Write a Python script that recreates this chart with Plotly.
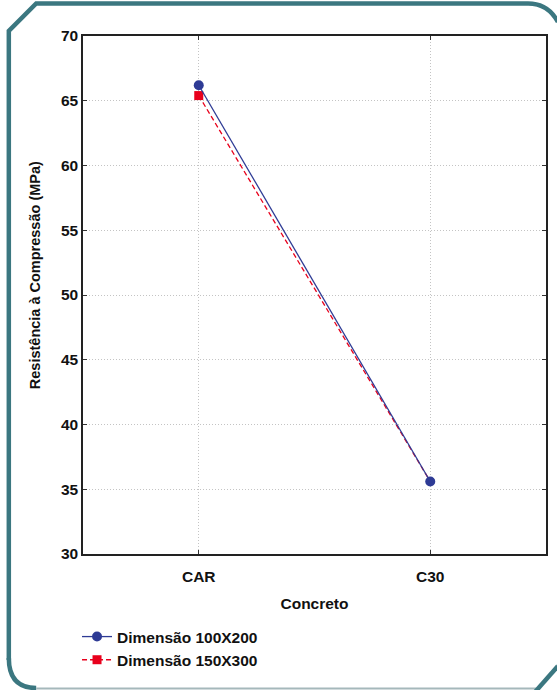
import plotly.graph_objects as go

categories = ["CAR", "C30"]
serie_100x200 = [66.2, 35.6]
serie_150x300 = [65.4, 35.6]
series_names = ["Dimensão 100X200", "Dimensão 150X300"]
y_ticks = [30, 35, 40, 45, 50, 55, 60, 65, 70]
x_title = "Concreto"
y_title = "Resistência à Compressão (MPa)"

W, H = 557, 690
L, R, T, B = 83, 9, 36, 136
PW, PH = W - L - R, H - T - B

def px(x):
    return (x - L) / PW

def py(y):
    return (H - B - y) / PH

def pt(p):
    return f"{px(p[0]):.5f},{py(p[1]):.5f}"

teal = "#3B7780"
font_fam = "Liberation Sans, Arial, sans-serif"
FS = 15.5

fig = go.Figure()
fig.add_trace(go.Scatter(
    x=categories, y=serie_150x300, name=series_names[1],
    mode="lines+markers",
    line=dict(color="#E8001C", width=1.3, dash="5px,3px"),
    # second square sits hidden behind the blue circle, as in the source
    marker=dict(symbol="square", size=9, color=["#E8001C", "rgba(232,0,28,0)"]),
))
fig.add_trace(go.Scatter(
    x=categories, y=serie_100x200, name=series_names[0],
    mode="lines+markers",
    line=dict(color="#2E3B95", width=1.3),
    marker=dict(symbol="circle", size=10, color="#2E3B95"),
))

frame_top = ("M " + pt((8.5, 660)) + " L " + pt((8.5, 31)) + " L " + pt((36, 3.5)) +
             " L " + pt((530, 3.5)) + " Q " + pt((550, 3.5)) + " " + pt((560, 22)))
frame_bl = "M " + pt((8.5, 658)) + " Q " + pt((8.5, 688)) + " " + pt((36, 688))

shapes = [
    dict(type="path", xref="paper", yref="paper", path=frame_top,
         line=dict(color=teal, width=4.5)),
    dict(type="path", xref="paper", yref="paper", path=frame_bl,
         line=dict(color=teal, width=4.5)),
    dict(type="line", xref="paper", yref="paper",
         x0=px(36), x1=px(538), y0=py(688.5), y1=py(688.5),
         line=dict(color="#A5B8BB", width=2)),
    dict(type="line", xref="paper", yref="paper",
         x0=px(537), x1=px(560), y0=py(692), y1=py(666),
         line=dict(color=teal, width=4.5)),
]

fig.update_layout(
    width=W, height=H,
    margin=dict(l=L, r=R, t=T, b=B),
    paper_bgcolor="white", plot_bgcolor="white",
    font=dict(family=font_fam, size=FS, color="#111111", weight="bold"),
    showlegend=True,
    legend=dict(x=px(77), y=py(620), xanchor="left", yanchor="top",
                bgcolor="rgba(0,0,0,0)", font=dict(size=FS, weight="bold"),
                tracegroupgap=0, traceorder="reversed"),
    shapes=shapes,
    annotations=[dict(text=y_title, textangle=-90, xref="paper", yref="paper",
                      x=px(35), y=py(275), xanchor="center", yanchor="middle",
                      showarrow=False, font=dict(size=14.5, weight="bold"))],
)
fig.update_xaxes(
    type="category", range=[-0.5, 1.5],
    showline=True, linecolor="#222222", linewidth=1.5, mirror="allticks",
    showgrid=True, gridcolor="#C4C4C4", griddash="1px,2px", gridwidth=1,
    ticks="inside", ticklen=4, tickcolor="#333333",
    tickfont=dict(size=FS, weight="bold"), ticklabelstandoff=8,
    title=dict(text=x_title, font=dict(size=FS, weight="bold"), standoff=14),
    zeroline=False,
)
fig.update_yaxes(
    range=[30, 70], tickvals=y_ticks,
    showline=True, linecolor="#222222", linewidth=1.5, mirror="allticks",
    showgrid=True, gridcolor="#C4C4C4", griddash="1px,2px", gridwidth=1,
    ticks="inside", ticklen=4, tickcolor="#333333",
    tickfont=dict(size=FS, weight="bold"),
    zeroline=False,
)

fig.write_html("out.html", config={"displayModeBar": False},
               post_script="document.body.style.margin='0';")
